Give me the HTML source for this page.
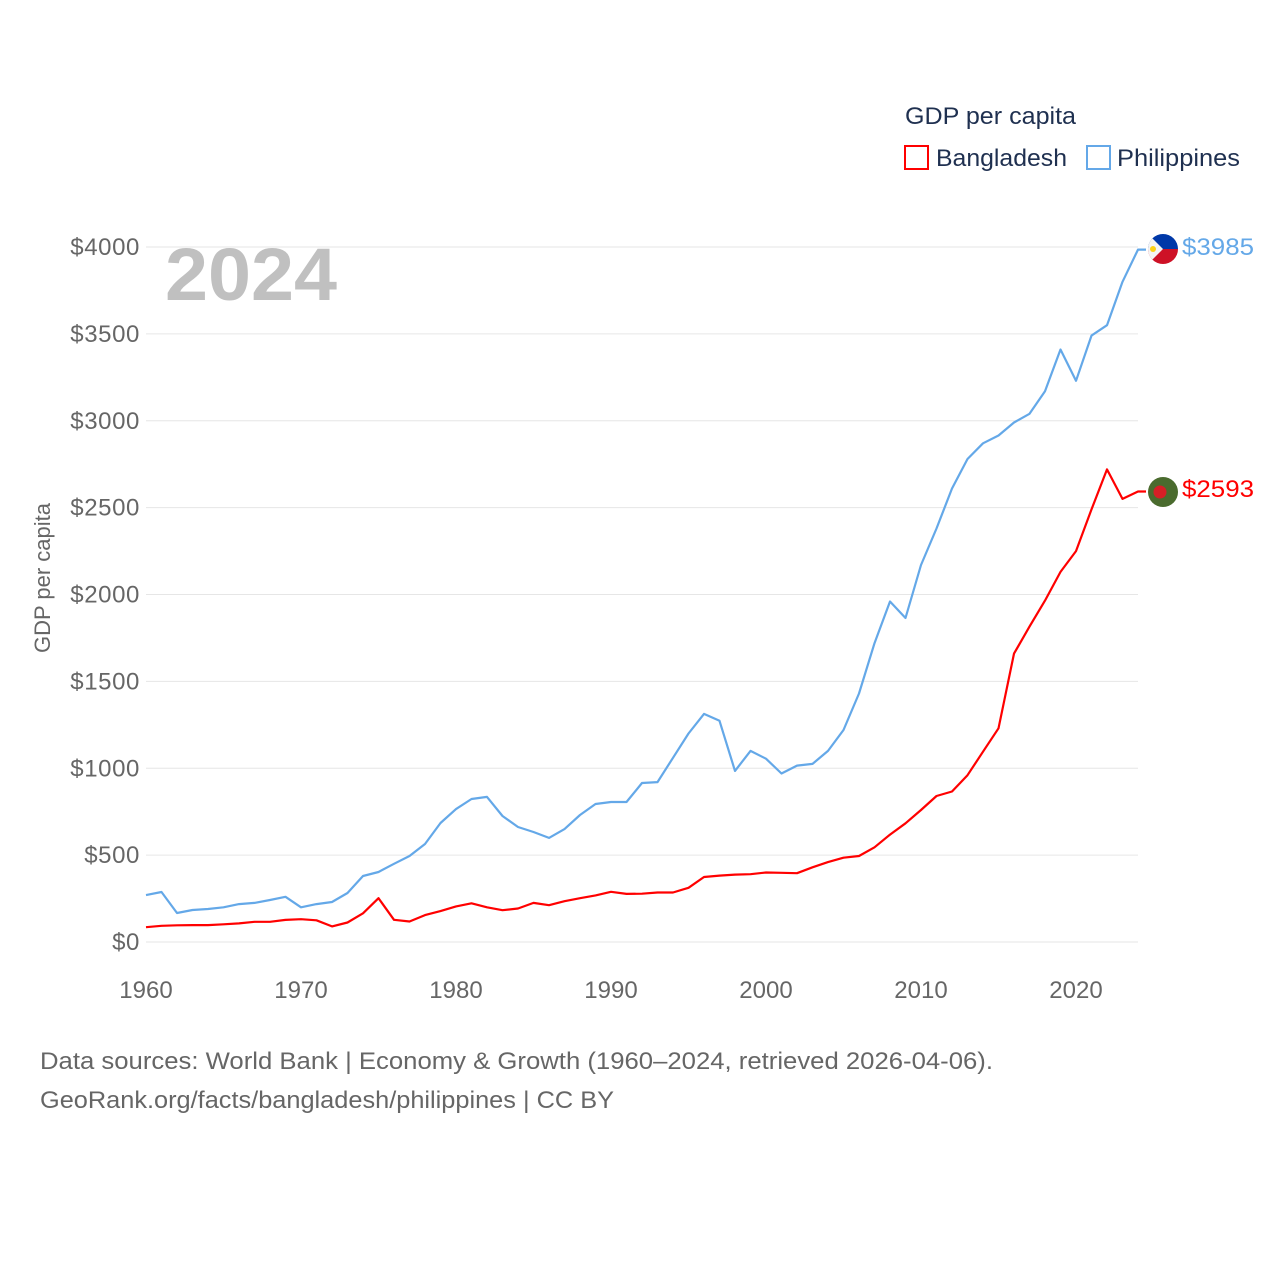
<!DOCTYPE html>
<html><head><meta charset="utf-8">
<style>
body{margin:0;background:#fff;font-family:"Liberation Sans",sans-serif;}
svg text{font-family:"Liberation Sans",sans-serif;}
</style></head>
<body>
<svg id="chart" width="1280" height="1280" viewBox="0 0 1280 1280" xmlns="http://www.w3.org/2000/svg">
<defs>
<clipPath id="phc"><circle cx="1163" cy="249" r="15"/></clipPath>
</defs>
<g id="grid"></g>
<g id="yticks"></g>
<g id="xticks"></g>
<text x="165" y="300" font-size="74" font-weight="bold" fill="#c0c0c0" textLength="172" lengthAdjust="spacingAndGlyphs">2024</text>
<text transform="translate(50,578) rotate(-90)" text-anchor="middle" font-size="22" fill="#666">GDP per capita</text>
<g id="series"></g>
<g clip-path="url(#phc)">
<rect x="1148" y="234" width="30" height="15" fill="#0038a8"/>
<rect x="1148" y="249" width="30" height="15" fill="#ce1126"/>
<polygon points="1148,234 1163,249 1148,264" fill="#f4f4f4"/>
<circle cx="1153" cy="249" r="3" fill="#fcd116"/>
</g>
<g>
<circle cx="1163" cy="492" r="15" fill="#4a6b2e"/>
<circle cx="1160" cy="492" r="6.5" fill="#d61f26"/>
</g>
<text x="1182" y="255" font-size="24" fill="#64a8e8" textLength="72" lengthAdjust="spacingAndGlyphs">$3985</text>
<text x="1182" y="497" font-size="24" fill="#ff0000" textLength="72" lengthAdjust="spacingAndGlyphs">$2593</text>
<text x="905" y="124" font-size="24" fill="#1f3050" textLength="171" lengthAdjust="spacingAndGlyphs">GDP per capita</text>
<rect x="905" y="146" width="23" height="23" fill="none" stroke="#ff0000" stroke-width="2"/>
<text x="936" y="166" font-size="24" fill="#1f3050" textLength="131" lengthAdjust="spacingAndGlyphs">Bangladesh</text>
<rect x="1087" y="146" width="23" height="23" fill="none" stroke="#64a8e8" stroke-width="2"/>
<text x="1117" y="166" font-size="24" fill="#1f3050" textLength="123" lengthAdjust="spacingAndGlyphs">Philippines</text>
<text x="40" y="1069" font-size="24" fill="#666" textLength="953" lengthAdjust="spacingAndGlyphs">Data sources: World Bank | Economy &amp; Growth (1960–2024, retrieved 2026-04-06).</text>
<text x="40" y="1108" font-size="24" fill="#666" textLength="574" lengthAdjust="spacingAndGlyphs">GeoRank.org/facts/bangladesh/philippines | CC BY</text>
</svg>
<script>
const years = [];
for (let y = 1960; y <= 2024; y++) years.push(y);
const philippines = [270,288,167,184,190,200,218,225,242,260,200,218,230,282,380,403,450,495,564,685,765,823,835,725,662,633,599,650,731,794,806,806,915,920,1060,1200,1313,1273,985,1100,1055,970,1015,1025,1100,1220,1430,1720,1960,1865,2170,2380,2610,2780,2870,2915,2990,3040,3170,3410,3230,3490,3550,3800,3985];
const bangladesh = [85,93,96,97,97,102,107,116,116,127,131,125,90,112,165,252,128,118,155,178,205,223,200,183,193,225,212,235,252,268,289,277,278,285,285,312,374,382,388,390,400,398,396,430,460,485,495,545,618,683,760,840,866,960,1095,1230,1660,1815,1965,2130,2250,2490,2720,2550,2593];
const yTicks = [0,500,1000,1500,2000,2500,3000,3500,4000];
const xTicks = [1960,1970,1980,1990,2000,2010,2020];

const NS = "http://www.w3.org/2000/svg";
const xS = y => 146 + (y - 1960) * 15.5;
const yS = v => 942 - v * (695 / 4000);
function mk(tag, attrs, parent){const e=document.createElementNS(NS,tag);for(const k in attrs)e.setAttribute(k,attrs[k]);parent.appendChild(e);return e;}

const grid = document.getElementById('grid'), yt = document.getElementById('yticks'), xt = document.getElementById('xticks');
yTicks.forEach(v=>{
  const l = mk('line',{x1:146,x2:1138,y1:yS(v),y2:yS(v),stroke:'#e6e6e6','stroke-width':1},grid);
  
  
  const t = mk('text',{x:140,y:yS(v)+8,'text-anchor':'end','font-size':24,fill:'#666','letter-spacing':'0.6'},yt);
  t.textContent = '$' + v;
  
  
});
xTicks.forEach(v=>{
  const t = mk('text',{x:xS(v),y:998,'text-anchor':'middle','font-size':24,fill:'#666'},xt);
  t.textContent = v;
  
  
});
const ser = document.getElementById('series');
function line(data,color,name){
  let d = data.map((v,i)=>(i?'L':'M')+xS(years[i]).toFixed(1)+','+yS(v).toFixed(1)).join(' ');
  d += ' L'+(xS(years[years.length-1])+8)+','+yS(data[data.length-1]).toFixed(1);
  const p = mk('path',{d:d,fill:'none',stroke:color,'stroke-width':2.2,'stroke-linejoin':'round'},ser);
  
  
}
line(philippines,'#64a8e8','philippines-line');
line(bangladesh,'#ff0000','bangladesh-line');
</script>
</body></html>
